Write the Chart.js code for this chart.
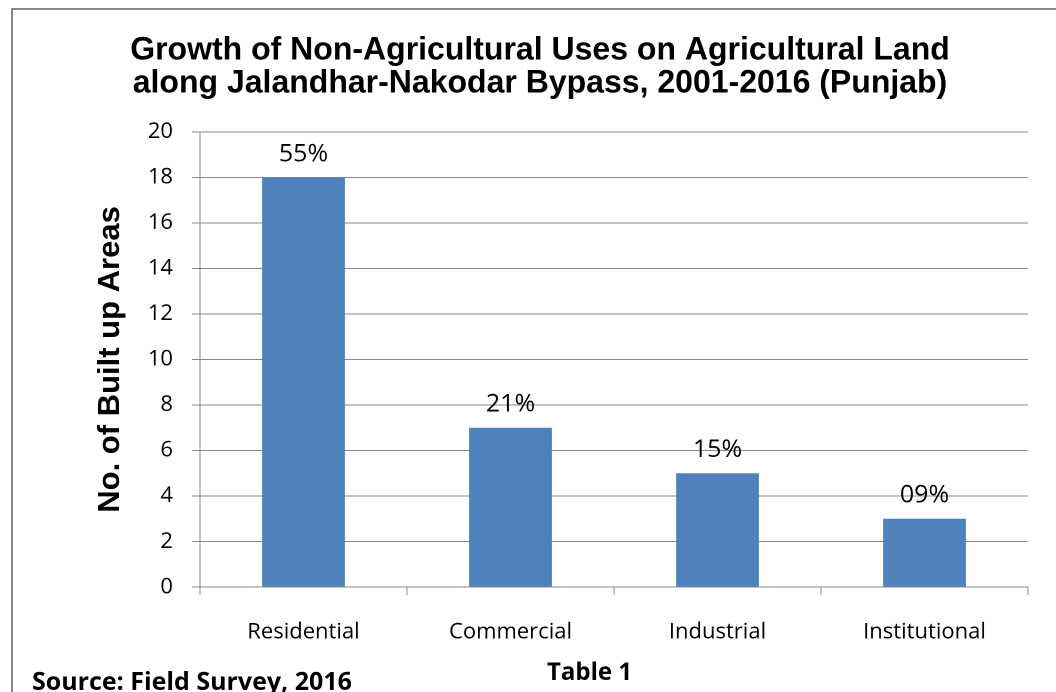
<!DOCTYPE html>
<html>
<head>
<meta charset="utf-8">
<script src="https://cdn.jsdelivr.net/npm/chart.js@4/dist/chart.umd.min.js"></script>
<style>
  html, body { margin: 0; padding: 0; background: #ffffff; overflow: hidden; }
  #wrap { position: relative; width: 1056px; height: 692px; }
</style>
</head>
<body>
<div id="wrap"><canvas id="c"></canvas></div>
<script>
// ---- data ----
const categories = ['Residential', 'Commercial', 'Industrial', 'Institutional'];
const builtUpAreas = [18, 7, 5, 3];
const pctLabels = ['55%', '21%', '15%', '09%'];
const titleLines = ['Growth of Non-Agricultural Uses on Agricultural Land', 'along Jalandhar-Nakodar Bypass, 2001-2016 (Punjab)'];
const yAxisTitle = 'No. of Built up Areas';
const yMin = 0, yMax = 20, yStep = 2;
const sourceNote = 'Source: Field Survey, 2016';
const tableNote = 'Table 1';

const GRID = '#878787';
const ARIAL = '"Liberation Sans", Arial, sans-serif';
const BODY = '"Open Sans", "Noto Sans", sans-serif';

const framePlugin = {
  id: 'frame',
  beforeDraw(chart) {
    const ctx = chart.ctx;
    ctx.save();
    ctx.strokeStyle = '#888888';
    ctx.lineWidth = 2;
    ctx.beginPath();
    ctx.moveTo(12, chart.height + 5);
    ctx.lineTo(12, 9);
    ctx.lineTo(chart.width + 5, 9);
    ctx.stroke();
    ctx.restore();
  }
};

const pctPlugin = {
  id: 'pct',
  afterDatasetsDraw(chart) {
    const ctx = chart.ctx;
    const meta = chart.getDatasetMeta(0);
    ctx.save();
    ctx.font = '25px ' + BODY;
    ctx.fillStyle = '#000000';
    ctx.textAlign = 'center';
    ctx.textBaseline = 'alphabetic';
    meta.data.forEach((bar, i) => {
      ctx.fillText(pctLabels[i], bar.x, bar.y - 16);
    });
    ctx.restore();
  }
};

const notesPlugin = {
  id: 'notes',
  afterDraw(chart) {
    const ctx = chart.ctx;
    ctx.save();
    ctx.fillStyle = '#000000';
    ctx.textBaseline = 'alphabetic';
    ctx.textAlign = 'left';
    ctx.font = 'bold 25px ' + BODY;
    ctx.fillText(sourceNote, 32, 690);
    ctx.font = 'bold 24px ' + BODY;
    ctx.fillText(tableNote, 547, 680);
    ctx.restore();
  }
};

new Chart(document.getElementById('c'), {
  type: 'bar',
  data: {
    labels: categories,
    datasets: [{
      data: builtUpAreas,
      backgroundColor: '#4F81BD',
      borderWidth: 0,
      categoryPercentage: 1.0,
      barPercentage: 0.4
    }]
  },
  options: {
    responsive: true,
    maintainAspectRatio: false,
    animation: false,
    devicePixelRatio: 2,
    layout: { padding: { left: 52, right: 28, top: 0, bottom: 0 } },
    plugins: {
      legend: { display: false },
      tooltip: { enabled: false },
      title: {
        display: true,
        text: titleLines,
        color: '#000000',
        font: { family: ARIAL, size: 32, weight: 'bold', lineHeight: 1.03 },
        padding: { top: 34, bottom: 32 }
      }
    },
    scales: {
      x: {
        grid: {
          offset: true,
          drawOnChartArea: false,
          drawTicks: true,
          tickLength: 8,
          color: GRID,
          lineWidth: 1
        },
        border: { display: true, color: GRID, width: 1 },
        ticks: {
          color: '#000000',
          font: { family: BODY, size: 22 },
          padding: 24,
          maxRotation: 0
        },
        afterFit(scale) { scale.height = 105; }
      },
      y: {
        min: yMin,
        max: yMax,
        grid: {
          color: GRID,
          lineWidth: 1,
          drawTicks: true,
          tickLength: 8
        },
        border: { display: true, color: GRID, width: 1 },
        ticks: {
          stepSize: yStep,
          color: '#000000',
          font: { family: BODY, size: 22 },
          padding: 19
        },
        title: {
          display: true,
          text: yAxisTitle,
          color: '#000000',
          font: { family: ARIAL, size: 31, weight: 'bold', lineHeight: 1.2 },
          padding: { top: 40, bottom: 0 }
        },
        afterFit(scale) { scale.width = 148; }
      }
    }
  },
  plugins: [framePlugin, pctPlugin, notesPlugin]
});
</script>
</body>
</html>
